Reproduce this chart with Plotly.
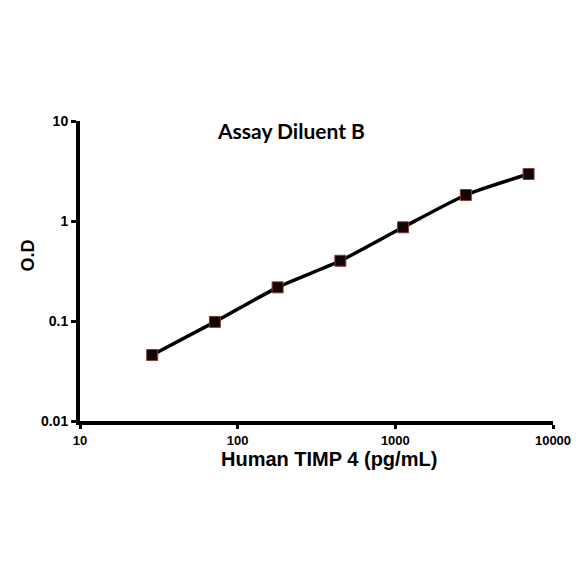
import plotly.graph_objects as go

concentration = [28.7, 71.7, 179.2, 448, 1120, 2800, 7000]
od_values = [0.0457, 0.098, 0.217, 0.40, 0.865, 1.82, 2.95]
x_tick_vals = [10, 100, 1000, 10000]
x_tick_text = ["10", "100", "1000", "10000"]
y_tick_vals = [0.01, 0.1, 1, 10]
y_tick_text = ["0.01", "0.1", "1", "10"]

fig = go.Figure()
fig.add_trace(go.Scatter(
    x=concentration, y=od_values, mode="lines+markers",
    line=dict(color="black", width=3.5, shape="spline", smoothing=0.6),
    marker=dict(symbol="square", size=11, color="#140505",
                line=dict(color="#8b3a3a", width=1)),
    showlegend=False,
))

fig.update_layout(
    width=584, height=584,
    margin=dict(l=71.5, r=39, t=113, b=171),
    paper_bgcolor="white", plot_bgcolor="white",
    font=dict(family="Liberation Sans, Arial", color="black"),
    annotations=[
        dict(text="<b>Assay Diluent B</b>", x=0.447, y=0.967, xref="paper", yref="paper",
             xanchor="center", yanchor="middle", showarrow=False,
             font=dict(family="Lato, Open Sans, sans-serif", size=21, color="black")),
        dict(text="<b>Human TIMP 4 (pg/mL)</b>", x=0.526, y=-0.125, xref="paper", yref="paper",
             xanchor="center", yanchor="middle", showarrow=False, borderpad=0,
             font=dict(family="Liberation Sans, Arial", size=20, color="black")),
        dict(text="<b>O.D</b>", x=-0.109, y=0.553, xref="paper", yref="paper",
             xanchor="center", yanchor="middle", showarrow=False, textangle=-90,
             font=dict(family="Liberation Sans, Arial", size=18, color="black")),
    ],
)
fig.update_xaxes(
    type="log", range=[1, 4], tickvals=x_tick_vals, ticktext=x_tick_text,
    showline=True, linecolor="black", linewidth=4, ticks="outside",
    ticklen=4, tickwidth=3, tickcolor="black", showgrid=False, zeroline=False,
    tickfont=dict(family="Liberation Sans, Arial", size=13, weight="bold"),
)
fig.update_yaxes(
    type="log", range=[-2, 1], tickvals=y_tick_vals, ticktext=y_tick_text,
    showline=True, linecolor="black", linewidth=4, ticks="outside",
    ticklen=5, tickwidth=3, tickcolor="black", showgrid=False, zeroline=False,
    tickfont=dict(family="Liberation Sans, Arial", size=14, weight="bold"),
)

fig.write_html("out.html")
